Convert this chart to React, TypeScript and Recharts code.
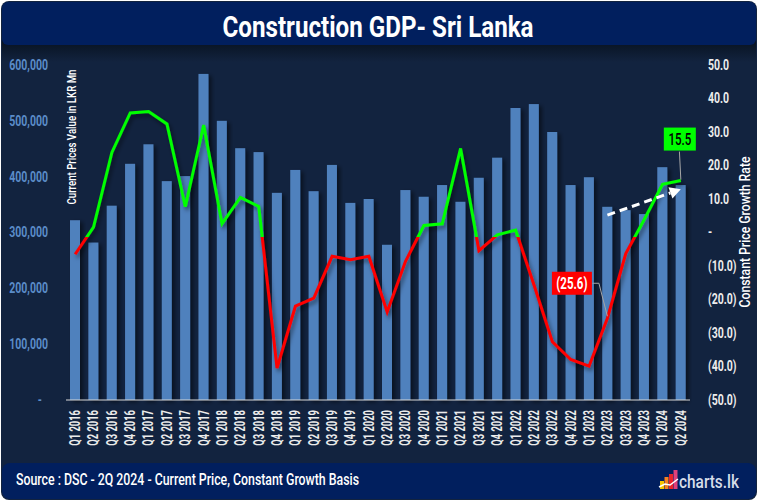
import React from 'react';
import { ComposedChart, Bar, Line, XAxis, YAxis, ReferenceLine, LabelList } from 'recharts';

const quarters = [
  'Q1 2016', 'Q2 2016', 'Q3 2016', 'Q4 2016',
  'Q1 2017', 'Q2 2017', 'Q3 2017', 'Q4 2017',
  'Q1 2018', 'Q2 2018', 'Q3 2018', 'Q4 2018',
  'Q1 2019', 'Q2 2019', 'Q3 2019', 'Q4 2019',
  'Q1 2020', 'Q2 2020', 'Q3 2020', 'Q4 2020',
  'Q1 2021', 'Q2 2021', 'Q3 2021', 'Q4 2021',
  'Q1 2022', 'Q2 2022', 'Q3 2022', 'Q4 2022',
  'Q1 2023', 'Q2 2023', 'Q3 2023', 'Q4 2023',
  'Q1 2024', 'Q2 2024',
];

const gdpCurrent = [
  322000, 282000, 348000, 423000,
  458000, 392000, 401000, 584000,
  500000, 451000, 444000, 371000,
  412000, 374000, 421000, 353000,
  360000, 278000, 376000, 364000,
  385000, 355000, 398000, 434000,
  523000, 530000, 480000, 385000,
  399000, 346000, 340000, 333000,
  417000, 385000,
];

const growthRate = [
  -6.5, 1.6, 23.9, 35.7,
  36.1, 32.4, 7.7, 32.1,
  2.6, 10.5, 7.8, -40.5,
  -22.0, -19.6, -7.1, -8.1,
  -7.1, -23.7, -8.6, 2.1,
  2.6, 25.1, -5.4, -0.7,
  0.7, -15.7, -32.6, -37.9,
  -39.9, -25.6, -6.3, 3.8,
  14.4, 15.5,
];

const leftTicks = [0, 100000, 200000, 300000, 400000, 500000, 600000];
const rightTicks = [-50, -40, -30, -20, -10, 0, 10, 20, 30, 40, 50];
const labelledQuarters = ['Q2 2023', 'Q2 2024'];
const trendArrow = [
  { q: 'Q2 2023', v: 5.2 },
  { q: 'Q2 2024', v: 12.9 },
];

const title = 'Construction GDP- Sri Lanka';
const leftAxisTitle = 'Current Prices Value in LKR Mn';
const rightAxisTitle = 'Constant Price Growth Rate';
const sourceText = 'Source : DSC - 2Q 2024 - Current Price, Constant Growth Basis';
const brandText = 'charts.lk';

const data = quarters.map((q, i) => ({ q, gdp: gdpCurrent[i], growth: growthRate[i] }));

const W = 758;
const H = 501;
const FONT = 'Roboto, "Liberation Sans", Arial, sans-serif';
const BG = '#12233f';
const NAVY = '#011f5e';
const BAR = '#4f81bd';
const GREEN = '#00ff00';
const RED = '#ff0000';
const SPLIT = -1.3;

const gMax = Math.max(...growthRate);
const gMin = Math.min(...growthRate);
const splitOffset = (gMax - SPLIT) / (gMax - gMin);

const fmtLeft = (v: number) => (v === 0 ? '-' : v.toLocaleString('en-US'));
const fmtRight = (v: number) =>
  v === 0 ? '-' : v < 0 ? `(${Math.abs(v).toFixed(1)})` : v.toFixed(1);

type STProps = {
  x: number; y: number; text: string; size: number; sx: number; fill: string;
  anchor?: 'start' | 'middle' | 'end'; rotate?: number; weight?: number;
};
const ScaledText = ({ x, y, text, size, sx, fill, anchor = 'start', rotate = 0, weight = 700 }: STProps) => (
  <text
    transform={`translate(${x},${y}) rotate(${rotate}) scale(${sx},1)`}
    fontSize={size}
    fontFamily={FONT}
    fontWeight={weight}
    fill={fill}
    textAnchor={anchor}
    dy="0.35em"
  >
    {text}
  </text>
);

type FTProps = {
  x: number; y: number; text: string; size: number; width: number; fill: string;
  anchor?: 'start' | 'middle' | 'end'; rotate?: number; weight?: number;
};
const FitText = ({ x, y, text, size, width, fill, anchor = 'start', rotate = 0, weight = 700 }: FTProps) => (
  <text
    transform={`translate(${x},${y}) rotate(${rotate})`}
    fontSize={size}
    fontFamily={FONT}
    fontWeight={weight}
    fill={fill}
    textAnchor={anchor}
    textLength={width}
    lengthAdjust="spacingAndGlyphs"
  >
    {text}
  </text>
);

const LeftTick = (p: any) => {
  const v = p.payload.value;
  return (
    <ScaledText x={v === 0 ? p.x - 6 : p.x} y={p.y} text={fmtLeft(v)} size={14} sx={0.75} fill="#5b8cc8" anchor="end" />
  );
};
const RightTick = (p: any) => (
  <ScaledText x={p.x} y={p.y} text={fmtRight(p.payload.value)} size={14} sx={0.75} fill="#ececec" anchor="start" />
);
const BottomTick = (p: any) => (
  <ScaledText x={p.x} y={p.y} text={p.payload.value} size={14} sx={0.67} fill="#ececec" anchor="end" rotate={-90} />
);

const BarShape = (p: any) => (
  <rect x={p.x} y={p.y} width={p.width} height={p.height} fill={BAR} filter="url(#barShadow)" />
);

const PointLabel = (p: any) => {
  const idx = p.index;
  const q = quarters[idx];
  if (!labelledQuarters.includes(q)) return null;
  const px = p.viewBox?.x ?? p.x;
  const py = p.viewBox?.y ?? p.y;
  const v = growthRate[idx];
  if (v >= 0) {
    return (
      <g>
        <line x1={px - 1.4} y1={py - 29} x2={px} y2={py - 1} stroke="#a6a6a6" strokeWidth={1} />
        <rect x={px - 17} y={py - 53} width={32} height={23} fill={GREEN} />
        <ScaledText x={px - 1} y={py - 41} text={fmtRight(v)} size={16} sx={0.72} fill="#000" anchor="middle" weight={500} />
      </g>
    );
  }
  return (
    <g>
      <polyline
        points={`${px - 15},${py - 35} ${px - 8.5},${py - 35} ${px},${py - 2}`}
        fill="none"
        stroke="#a6a6a6"
        strokeWidth={1}
      />
      <rect x={px - 55.5} y={py - 46.5} width={40} height={23} fill={RED} />
      <ScaledText x={px - 35.5} y={py - 35} text={fmtRight(v)} size={16} sx={0.72} fill="#fff" anchor="middle" />
    </g>
  );
};

const ArrowShape = (p: any) => {
  const { x1, y1, x2, y2 } = p;
  if ([x1, y1, x2, y2].some((n) => typeof n !== 'number' || isNaN(n))) return null;
  const dx = x2 - x1;
  const dy = y2 - y1;
  const len = Math.sqrt(dx * dx + dy * dy);
  const ux = dx / len;
  const uy = dy / len;
  const hl = 11;
  const hw = 6;
  const bx = x2 - ux * hl;
  const by = y2 - uy * hl;
  return (
    <g>
      <line x1={x1} y1={y1} x2={bx} y2={by} stroke="#fff" strokeWidth={3} strokeDasharray="8 5" />
      <polygon
        points={`${x2},${y2} ${bx - uy * hw},${by + ux * hw} ${bx + uy * hw},${by - ux * hw}`}
        fill="#fff"
      />
    </g>
  );
};

export default function App() {
  return (
    <div style={{ position: 'absolute', left: 0, top: 0, width: W, height: H, background: '#fff' }}>
      <svg width={W} height={H} style={{ position: 'absolute', left: 0, top: 0 }}>
        <defs>
          <linearGradient id="titleShade" x1="0" y1="0" x2="0" y2="1">
            <stop offset="0" stopColor="#08121f" />
            <stop offset="1" stopColor={BG} />
          </linearGradient>
        </defs>
        <rect x={1} y={1} width={W - 2} height={H - 2} rx={8} fill={BG} />
        <rect x={2} y={40} width={W - 4} height={22} fill="url(#titleShade)" />
        <rect x={2} y={2} width={W - 4} height={43} rx={6} fill={NAVY} />
        <FitText x={378} y={37} text={title} size={30} width={311} fill="#fff" anchor="middle" weight={700} />
        <rect x={2} y={463} width={W - 4} height={36} rx={8} fill={NAVY} />
        <FitText x={16} y={485} text={sourceText} size={16} width={343} fill="#fff" weight={500} />
        <g>
          <rect x={660} y={481} width={4} height={8} fill="#f7c600" />
          <rect x={664.5} y={477} width={4} height={12} fill="#f58220" />
          <rect x={669} y={474} width={4} height={15} fill="#e8242b" />
          <rect x={673.5} y={470} width={4} height={19} fill="#e0407a" />
          <polyline points="659,487 665,484 670,485 678,479" fill="none" stroke="#fff" strokeWidth={1.5} />
        </g>
        <FitText x={679} y={488} text={brandText} size={19} width={60} fill="#d5dde9" weight={500} />
      </svg>
      <div style={{ position: 'absolute', left: 0, top: 0 }}>
        <ComposedChart
          width={W}
          height={H}
          data={data}
          margin={{ top: 65, right: 0, bottom: 0, left: 0 }}
          barCategoryGap="45%"
        >
          <defs>
            <filter id="barShadow" x="-60%" y="-10%" width="220%" height="120%">
              <feDropShadow dx="3" dy="2" stdDeviation="2" floodColor="#000" floodOpacity="0.5" />
            </filter>
            <filter id="lineShadow" x="-10%" y="-10%" width="120%" height="130%">
              <feDropShadow dx="2" dy="3" stdDeviation="2" floodColor="#000" floodOpacity="0.5" />
            </filter>
            <linearGradient id="lineGrad" x1="0" y1="0" x2="0" y2="1">
              <stop offset={splitOffset} stopColor={GREEN} />
              <stop offset={splitOffset} stopColor={RED} />
            </linearGradient>
          </defs>
          <XAxis
            dataKey="q"
            height={101}
            interval={0}
            axisLine={{ stroke: '#d9d9d9', strokeWidth: 1 }}
            tickLine={false}
            tickSize={0}
            tickMargin={10}
            tick={BottomTick}
          />
          <YAxis
            yAxisId="left"
            orientation="left"
            width={66}
            domain={[0, 600000]}
            ticks={leftTicks}
            axisLine={false}
            tickLine={false}
            tickSize={0}
            tickMargin={18}
            tick={LeftTick}
          />
          <YAxis
            yAxisId="right"
            orientation="right"
            width={68}
            domain={[-50, 50]}
            ticks={rightTicks}
            axisLine={false}
            tickLine={false}
            tickSize={0}
            tickMargin={18}
            tick={RightTick}
          />
          <Bar yAxisId="left" dataKey="gdp" barSize={10} shape={BarShape} isAnimationActive={false} />
          <Line
            yAxisId="right"
            dataKey="growth"
            type="linear"
            stroke="url(#lineGrad)"
            strokeWidth={3}
            dot={false}
            activeDot={false}
            filter="url(#lineShadow)"
            isAnimationActive={false}
          >
            <LabelList dataKey="growth" content={PointLabel} />
          </Line>
          <ReferenceLine
            yAxisId="right"
            segment={[
              { x: trendArrow[0].q, y: trendArrow[0].v },
              { x: trendArrow[1].q, y: trendArrow[1].v },
            ]}
            shape={ArrowShape}
            ifOverflow="visible"
          />
        </ComposedChart>
      </div>
      <svg width={W} height={H} style={{ position: 'absolute', left: 0, top: 0, pointerEvents: 'none' }}>
        <FitText x={76} y={137} text={leftAxisTitle} size={13} width={135} fill="#fff" anchor="middle" rotate={-90} weight={500} />
        <FitText x={750} y={232} text={rightAxisTitle} size={15} width={151} fill="#fff" anchor="middle" rotate={-90} weight={500} />
      </svg>
    </div>
  );
}
